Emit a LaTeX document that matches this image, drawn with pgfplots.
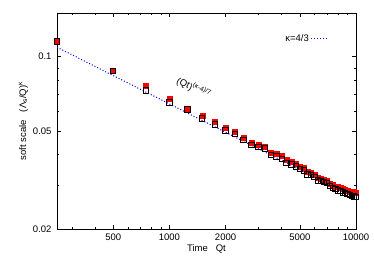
\documentclass[border=0pt]{standalone}
\usepackage{fontspec}
\setmainfont{Liberation Sans}
\usepackage{pgfplots}
\pgfplotsset{compat=1.18}
\usepackage{pgfplotstable}
\pgfplotstableread{
t black red
250 0.1150 0.1150
500 0.0872 0.0875
750 0.0729 0.0758
1000 0.0652 0.0672
1250 0.0611 0.0615
1500 0.0560 0.0578
1750 0.0530 0.0543
2000 0.0502 0.0515
2250 0.0485 0.0497
2500 0.0458 0.0470
2750 0.0437 0.0446
3000 0.0430 0.0440
3250 0.0424 0.0432
3500 0.0398 0.0408
3750 0.0393 0.0402
4000 0.0385 0.0395
4250 0.0371 0.0380
4500 0.0365 0.0374
4750 0.0358 0.0367
5000 0.0350 0.0359
5250 0.0345 0.0354
5500 0.0333 0.0341
5750 0.0331 0.0339
6000 0.0325 0.0333
6250 0.0315 0.0323
6500 0.0313 0.0321
6750 0.0310 0.0318
7000 0.0307 0.0315
7250 0.0298 0.0306
7500 0.0293 0.0301
7750 0.0290 0.0298
8000 0.0287 0.0296
8250 0.0285 0.0293
8500 0.0281 0.0290
8750 0.0280 0.0289
9000 0.0277 0.0286
9250 0.0274 0.0284
9500 0.0272 0.0282
9750 0.0271 0.0282
10000 0.0269 0.0281
}\data
\begin{document}
\begin{tikzpicture}
\begin{axis}[
  name=ax,
  scale only axis,
  width=299pt, height=216pt,
  xmode=log, ymode=log,
  xmin=250, xmax=10000,
  ymin=0.02, ymax=0.15,
  xtick={500,1000,2000,5000,10000},
  xticklabels={500,1000,2000,5000,10000},
  minor xtick={300,400,600,700,800,900,3000,4000,6000,7000,8000,9000},
  ytick={0.02,0.05,0.1},
  yticklabels={0.02,0.05,0.1},
  minor ytick={0.03,0.04,0.06,0.07,0.08,0.09},
  tick align=inside,
  major tick length=4pt,
  minor tick length=2.5pt,
  tick style={black, line width=0.5pt},
  axis line style={black, line width=0.6pt},
  tick label style={font=\fontsize{9.5}{11}\selectfont},
  xticklabel style={yshift=-1pt},
  yticklabel style={xshift=-2pt},
  xlabel={Time\hspace{8pt}Qt},
  ylabel={soft scale\hspace{8pt}(Λ\textsubscript{s}/Q)\textsuperscript{κ}},
  label style={font=\fontsize{9.5}{11}\selectfont},
  xlabel style={yshift=3pt},
  ylabel style={yshift=-2pt},
  legend style={draw=none, fill=none, at={(0.92,0.88)}, anchor=east,
    font=\fontsize{9.5}{11}\selectfont},
  legend plot pos=right,
  legend cell align=right,
]
\addplot[only marks, mark=square*, mark size=2.5pt, color=red, forget plot] table[x=t, y=red] {\data};
\addplot[only marks, mark=square, mark size=2.7pt, color=black, line width=0.9pt, forget plot] table[x=t, y=black] {\data};
\addplot[blue, dotted, line width=1pt] coordinates {(250,0.109) (10000,0.0267)};
\addlegendentry{κ=4/3}
\node[rotate=-25, inner sep=0pt, font=\fontsize{9.5}{11}\selectfont] at (axis cs:1350,0.0745) {(Qt)\textsuperscript{(κ-4)/7}};
\end{axis}
\pgfresetboundingbox
\path ([shift={(-57pt,-33pt)}]ax.south west) rectangle ([shift={(18pt,13pt)}]ax.north east);
\end{tikzpicture}
\end{document}
